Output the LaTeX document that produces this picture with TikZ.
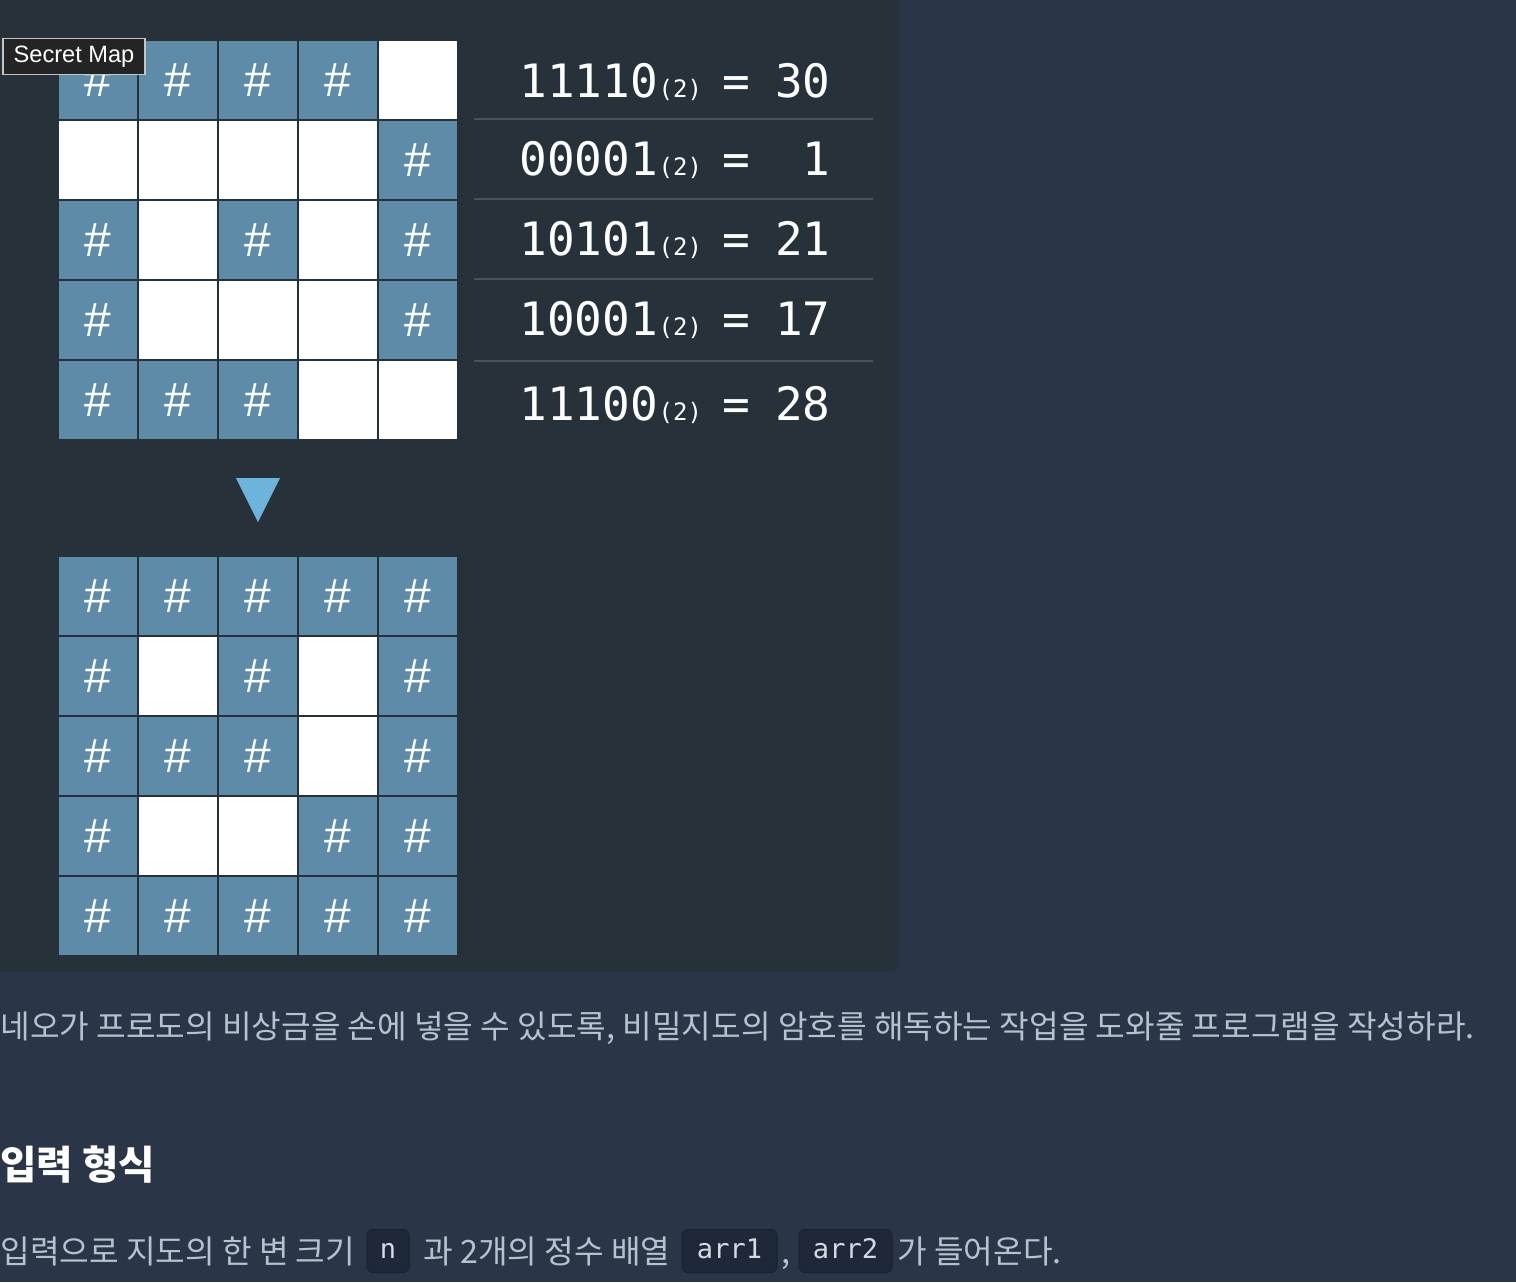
\documentclass[tikz,border=0pt]{standalone}
\usepackage{fontspec}
\setmainfont{Liberation Sans}
\newfontfamily\cjk{Noto Sans CJK KR}
\newfontfamily\monofont{DejaVu Sans Mono}
\newfontfamily\uifont{Liberation Sans}
\usetikzlibrary{positioning}

\definecolor{pagebg}{HTML}{2A3547}
\definecolor{panelbg}{HTML}{263139}
\definecolor{cellblue}{HTML}{5E8CA8}
\definecolor{arrowblue}{HTML}{6DB4DC}
\definecolor{rulegray}{HTML}{4B535A}
\definecolor{bodytext}{HTML}{B8C1CE}
\definecolor{codebg}{HTML}{1F2838}
\definecolor{codeborder}{HTML}{1A2230}
\definecolor{codetext}{HTML}{D5DBE3}
\definecolor{tipbg}{HTML}{242424}
\definecolor{tipborder}{HTML}{C4C4C4}

\tikzset{
  wall/.style={rectangle, fill=cellblue, draw=panelbg, line width=1pt,
    minimum size=40pt, inner sep=0pt, text=white,
    font=\fontsize{24}{24}\selectfont},
  road/.style={wall, fill=white},
  binnum/.style={inner sep=0pt, text=white, font=\monofont\fontsize{23}{24}\selectfont},
  binsub/.style={inner sep=0pt, text=white, font=\monofont\fontsize{12}{12}\selectfont},
  sepline/.style={draw=rulegray, line width=1pt},
  tip/.style={fill=tipbg, draw=tipborder, line width=0.9pt, minimum width=71pt,
    minimum height=18pt, inner sep=0pt, text=white, font=\uifont\fontsize{11.8}{12}\selectfont},
  bodytxt/.style={anchor=base west, inner sep=0pt, text=bodytext, font=\cjk\fontsize{16.1}{19}\selectfont},
  headtxt/.style={anchor=base west, inner sep=0pt, text=white, font=\cjk\bfseries\fontsize{19.8}{23}\selectfont},
  chip/.style={fill=codebg, draw=codeborder, line width=0.5pt, rounded corners=3pt,
    minimum height=21.5pt, text height=10pt, text depth=2.5pt, inner sep=0pt,
    text=codetext, font=\monofont\fontsize{13.5}{14}\selectfont},
}

\begin{document}
\begin{tikzpicture}[x=0.5pt,y=-0.5pt]
    \useasboundingbox (0,0) rectangle (1516,1282);
    % background
    \fill[pagebg] (0,0) rectangle (1516,1282);
    \fill[panelbg, rounded corners=4pt] (-20,-20) rectangle (898,972);
    % first map
    \foreach \bits [count=\i] in {{1,1,1,1,0},{0,0,0,0,1},{1,0,1,0,1},{1,0,0,0,1},{1,1,1,0,0}}
      \foreach \b [count=\j] in \bits {
        \ifnum\b=1 \node[wall] (a\i\j) at (18+80*\j, 80*\i) {\#};
        \else \node[road] (a\i\j) at (18+80*\j, 80*\i) {};
        \fi
      };
    % binary rows
    \foreach \bin/\val/\base [count=\k] in {11110/30/97, 00001/1/175, 10101/21/255, 10001/17/335, 11100/28/420} {
      \node[binnum, anchor=base west] (bin\k) at (519,\base) {\bin};
      \node[binsub, base right=0pt of bin\k] (sub\k) {(2)};
      \node[binnum, anchor=base] (eq\k) at (736,\base) {=};
      \node[binnum, anchor=base east] (dec\k) at (831,\base) {\val};
    }
    \foreach \y in {119,199,279,361}
      \draw[sepline] (474,\y) -- (873,\y);
    % arrow down
    \fill[arrowblue] (236,478) -- (280,478) -- (258,522) -- cycle;
    % decoded map
    \foreach \bits [count=\i] in {{1,1,1,1,1},{1,0,1,0,1},{1,1,1,0,1},{1,0,0,1,1},{1,1,1,1,1}}
      \foreach \b [count=\j] in \bits {
        \ifnum\b=1 \node[wall] (m\i\j) at (18+80*\j, 516+80*\i) {\#};
        \else \node[road] (m\i\j) at (18+80*\j, 516+80*\i) {};
        \fi
      };
    % tooltip
    \node[tip] (secret) at (74,56.5) {Secret Map};
    % text below
    \node[bodytxt] (intro) at (0,1038) {네오가 프로도의 비상금을 손에 넣을 수 있도록, 비밀지도의 암호를 해독하는 작업을 도와줄 프로그램을 작성하라.};
    \node[headtxt] (inhead) at (0,1179) {입력 형식};
    \node[bodytxt] (in1) at (0,1263) {입력으로 지도의 한 변 크기};
    \node[chip, minimum width=21pt] (argn) at (388,1251) {n};
    \node[bodytxt] (in2) at (423,1263) {과 2개의 정수 배열};
    \node[chip, minimum width=47.5pt] (argone) at (729.5,1251) {arr1};
    \node[bodytxt] (comma) at (781,1263) {,};
    \node[chip, minimum width=46.5pt] (argtwo) at (845.5,1251) {arr2};
    \node[bodytxt] (in3) at (897,1263) {가 들어온다.};
\end{tikzpicture}
\end{document}
